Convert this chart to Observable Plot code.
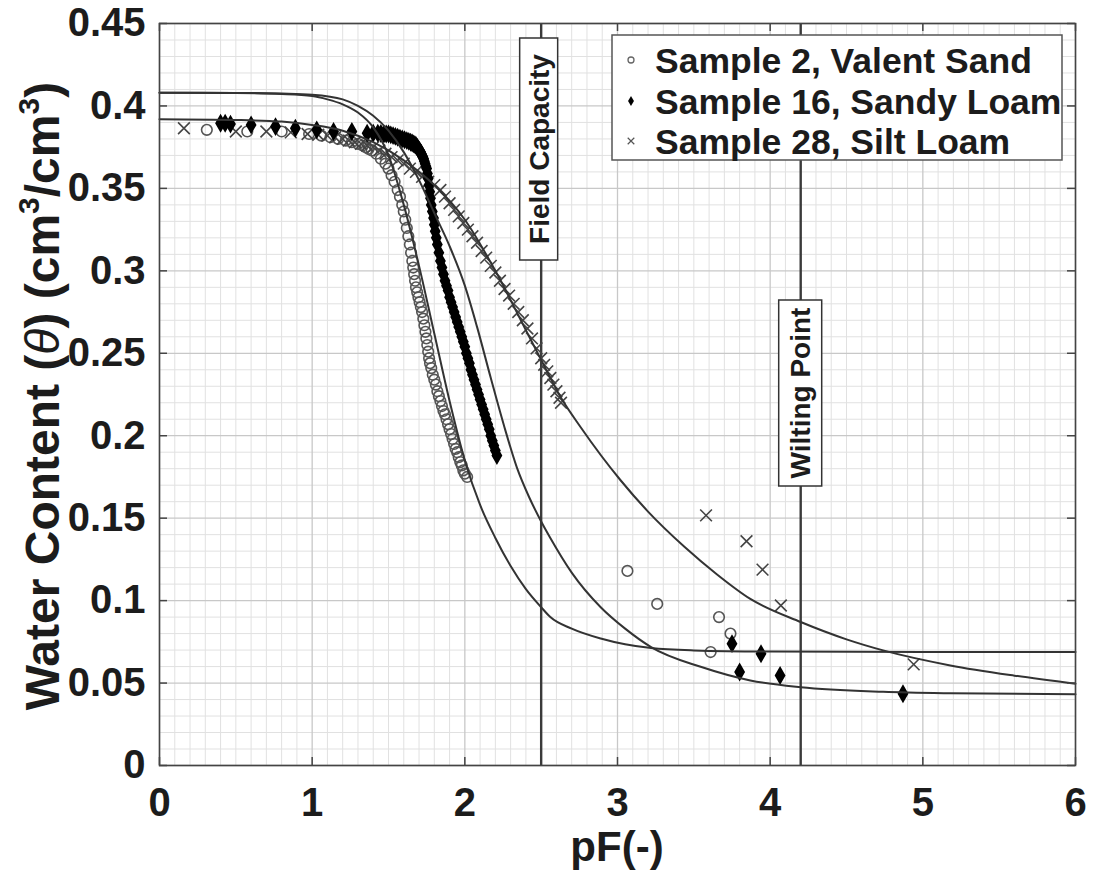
<!DOCTYPE html>
<html><head><meta charset="utf-8">
<script src="https://cdn.jsdelivr.net/npm/d3@7"></script>
<script src="https://cdn.jsdelivr.net/npm/@observablehq/plot@0.6"></script>
<style>body{margin:0;background:#fff;}#chart svg{display:block;}</style>
</head><body><div id="chart"></div>
<script>
// ---------- data (pF, theta) ----------
const sample2Sand = [[0.31,0.3855],[0.575,0.3845],[0.80,0.3845],[0.98,0.383],[1.06,0.382],[1.12,0.381],[1.17,0.380],[1.22,0.379],[1.26,0.378],[1.30,0.377],[1.33,0.376],[1.35,0.375],[1.37,0.374],[1.39,0.373],[1.42,0.371],[1.45,0.368],[1.48,0.365],[1.50,0.362],[1.52,0.358],[1.54,0.354],[1.56,0.349],[1.575,0.345],[1.59,0.340],[1.60,0.336],[1.61,0.331],[1.62,0.326],[1.63,0.321],[1.64,0.316],[1.648,0.311],[1.656,0.306],[1.662,0.302],[1.668,0.298],[1.674,0.294],[1.68,0.290],[1.688,0.287],[1.696,0.284],[1.704,0.281],[1.712,0.278],[1.72,0.275],[1.728,0.271],[1.735,0.267],[1.742,0.263],[1.748,0.259],[1.754,0.255],[1.76,0.251],[1.766,0.247],[1.772,0.244],[1.78,0.241],[1.79,0.237],[1.80,0.234],[1.81,0.231],[1.82,0.227],[1.83,0.224],[1.84,0.221],[1.85,0.218],[1.86,0.215],[1.87,0.213],[1.88,0.210],[1.89,0.207],[1.90,0.204],[1.91,0.201],[1.92,0.198],[1.93,0.195],[1.94,0.192],[1.95,0.190],[1.96,0.187],[1.97,0.184],[1.98,0.182],[1.99,0.179],[2.00,0.177],[2.015,0.175],[3.065,0.118],[3.26,0.098],[3.665,0.090],[3.74,0.080],[3.61,0.0688]];
const sample16SandyLoam = [[0.40,0.3895],[0.43,0.3895],[0.465,0.389],[0.60,0.3885],[0.76,0.3875],[0.89,0.3865],[1.03,0.3855],[1.14,0.3845],[1.26,0.3845],[1.36,0.3835],[1.40,0.3835],[1.43,0.3835],[1.45,0.3833],[1.47,0.383],[1.485,0.383],[1.50,0.383],[1.515,0.3825],[1.53,0.382],[1.545,0.3815],[1.56,0.381],[1.575,0.3805],[1.59,0.380],[1.605,0.3795],[1.62,0.379],[1.633,0.3785],[1.645,0.378],[1.655,0.3775],[1.665,0.377],[1.673,0.3765],[1.68,0.376],[1.688,0.375],[1.695,0.374],[1.703,0.373],[1.71,0.372],[1.715,0.371],[1.72,0.370],[1.725,0.369],[1.73,0.368],[1.735,0.3665],[1.74,0.365],[1.745,0.3635],[1.75,0.362],[1.755,0.359],[1.76,0.356],[1.765,0.352],[1.77,0.348],[1.775,0.344],[1.78,0.340],[1.787,0.336],[1.795,0.332],[1.80,0.328],[1.806,0.324],[1.813,0.320],[1.82,0.316],[1.83,0.311],[1.84,0.306],[1.85,0.302],[1.86,0.298],[1.87,0.294],[1.88,0.291],[1.89,0.288],[1.90,0.284],[1.91,0.281],[1.92,0.278],[1.93,0.275],[1.94,0.272],[1.95,0.269],[1.96,0.266],[1.97,0.263],[1.98,0.260],[1.99,0.257],[2.00,0.254],[2.01,0.250],[2.02,0.247],[2.03,0.244],[2.04,0.240],[2.05,0.237],[2.06,0.234],[2.07,0.231],[2.08,0.228],[2.09,0.225],[2.10,0.222],[2.11,0.219],[2.12,0.216],[2.13,0.213],[2.14,0.210],[2.15,0.207],[2.16,0.204],[2.17,0.200],[2.18,0.197],[2.19,0.194],[2.20,0.191],[2.21,0.188],[3.75,0.0739],[3.94,0.0678],[3.80,0.0567],[4.065,0.0546],[4.87,0.0435]];
const sample28SiltLoam = [[0.16,0.3865],[0.50,0.3845],[0.70,0.3845],[0.86,0.384],[0.97,0.383],[1.04,0.3825],[1.10,0.382],[1.15,0.381],[1.20,0.380],[1.24,0.379],[1.28,0.378],[1.32,0.377],[1.36,0.376],[1.40,0.375],[1.44,0.373],[1.48,0.371],[1.52,0.369],[1.56,0.367],[1.60,0.365],[1.64,0.362],[1.68,0.360],[1.72,0.357],[1.76,0.354],[1.80,0.352],[1.84,0.349],[1.87,0.345],[1.90,0.341],[1.93,0.337],[1.96,0.333],[1.99,0.329],[2.02,0.325],[2.05,0.321],[2.08,0.317],[2.11,0.312],[2.14,0.308],[2.17,0.303],[2.20,0.299],[2.23,0.294],[2.26,0.289],[2.29,0.285],[2.32,0.280],[2.35,0.275],[2.38,0.270],[2.41,0.265],[2.44,0.259],[2.47,0.253],[2.50,0.247],[2.52,0.243],[2.54,0.239],[2.56,0.235],[2.58,0.231],[2.60,0.227],[2.62,0.223],[2.63,0.220],[3.58,0.1517],[3.845,0.136],[3.95,0.1188],[4.07,0.097],[4.94,0.0613]];

// fitted retention curves
const fitSand = [[0,0.408],[0.5,0.4078],[0.8,0.4072],[1.0,0.406],[1.1,0.404],[1.2,0.401],[1.3,0.396],[1.4,0.387],[1.5,0.370],[1.6,0.340],[1.7,0.303],[1.8,0.262],[1.9,0.221],[2.0,0.185],[2.1,0.158],[2.2,0.138],[2.3,0.121],[2.4,0.107],[2.5,0.096],[2.56,0.090],[2.7,0.083],[2.89,0.077],[3.05,0.0735],[3.22,0.0712],[3.5,0.0698],[4.0,0.0691],[5.0,0.0689],[6.0,0.0688]];
const fitSandyLoam = [[0,0.408],[0.5,0.4079],[0.8,0.4075],[1.0,0.4068],[1.2,0.404],[1.3,0.400],[1.4,0.394],[1.5,0.385],[1.6,0.372],[1.7,0.355],[1.8,0.335],[1.9,0.315],[2.0,0.291],[2.08,0.266],[2.17,0.235],[2.26,0.205],[2.34,0.181],[2.42,0.163],[2.5,0.148],[2.56,0.138],[2.7,0.117],[2.89,0.096],[3.05,0.083],[3.22,0.0718],[3.55,0.0597],[3.87,0.0516],[4.2,0.0475],[4.74,0.0447],[5.18,0.0438],[6.0,0.0432]];
const fitSiltLoam = [[0,0.392],[0.5,0.3915],[0.8,0.3905],[1.0,0.3885],[1.2,0.385],[1.4,0.378],[1.6,0.367],[1.8,0.352],[2.0,0.331],[2.2,0.300],[2.4,0.264],[2.5,0.246],[2.63,0.223],[2.76,0.205],[3.02,0.173],[3.2,0.154],[3.44,0.1325],[3.65,0.116],[3.87,0.101],[4.2,0.087],[4.5,0.0765],[4.74,0.0698],[5.18,0.0607],[5.6,0.0545],[6.0,0.0496]];

const referenceLines = [2.5, 4.2];           // field capacity, wilting point (pF)
const referenceNames = ["Field Capacity", "Wilting Point"];
const legendNames = ["Sample 2, Valent Sand", "Sample 16, Sandy Loam", "Sample 28, Silt Loam"];
const xTicks = [0,1,2,3,4,5,6];
const yTicks = [0,0.05,0.1,0.15,0.2,0.25,0.3,0.35,0.4,0.45];
const yTickLabels = ["0","0.05","0.1","0.15","0.2","0.25","0.3","0.35","0.4","0.45"];

// ---------- layout ----------
const W = 1094, H = 873;
const ML = 159, MR = 19, MT = 23, MB = 108;
const FONT = "'Liberation Sans', Arial, Helvetica, sans-serif";
const TXT = "#1c1c1c";
const minorX = d3.range(1, 60).map(i => i / 10).filter(v => Math.abs(v - Math.round(v)) > 1e-6);
const minorY = d3.range(1, 45).map(i => i / 100).filter((v, i) => (i + 1) % 5 !== 0);
const px = d => d[0], py = d => d[1];
const tickLen = 8;

const plot = Plot.plot({
  width: W, height: H,
  marginLeft: ML, marginRight: MR, marginTop: MT, marginBottom: MB,
  x: {domain: [0, 6], axis: null},
  y: {domain: [0, 0.45], axis: null},
  style: {fontFamily: FONT, background: "#fff", color: TXT},
  marks: [
    Plot.ruleX(minorX, {stroke: "#e1e1e1", strokeWidth: 1}),
    Plot.ruleY(minorY, {stroke: "#e1e1e1", strokeWidth: 1}),
    Plot.ruleX(xTicks, {stroke: "#c8c8c8", strokeWidth: 1.3}),
    Plot.ruleY(yTicks, {stroke: "#c8c8c8", strokeWidth: 1.3}),
    Plot.ruleX(referenceLines, {stroke: "#3a3a3a", strokeWidth: 2.4}),
    Plot.dot(sample2Sand, {x: px, y: py, r: 5.3, stroke: "#555", strokeWidth: 1.6, fill: "none"}),
    Plot.dot(sample28SiltLoam, {x: px, y: py, symbol: "times", r: 5.4, stroke: "#444", strokeWidth: 1.6}),
    Plot.dot(sample16SandyLoam, {x: px, y: py, symbol: "diamond", r: 4.5, fill: "#000", stroke: "#000", strokeWidth: 2}),
    Plot.line(fitSand, {x: px, y: py, stroke: "#333", strokeWidth: 2, curve: "monotone-x"}),
    Plot.line(fitSandyLoam, {x: px, y: py, stroke: "#333", strokeWidth: 2, curve: "monotone-x"}),
    Plot.line(fitSiltLoam, {x: px, y: py, stroke: "#333", strokeWidth: 2, curve: "monotone-x"}),
    Plot.tickX(xTicks, {x: d => d, stroke: "#444", strokeWidth: 1.5, insetTop: H - MT - MB - tickLen}),
    Plot.tickX(xTicks, {x: d => d, stroke: "#444", strokeWidth: 1.5, insetBottom: H - MT - MB - tickLen}),
    Plot.tickY(yTicks, {y: d => d, stroke: "#444", strokeWidth: 1.5, insetRight: W - ML - MR - tickLen}),
    Plot.tickY(yTicks, {y: d => d, stroke: "#444", strokeWidth: 1.5, insetLeft: W - ML - MR - tickLen}),
    Plot.frame({stroke: "#444", strokeWidth: 1.6}),
    Plot.text(xTicks, {x: d => d, text: d => String(d), frameAnchor: "bottom", dy: 38, lineAnchor: "middle", fontSize: 40, fontWeight: "bold", fill: TXT}),
    Plot.text(yTicks, {y: d => d, text: (d, i) => yTickLabels[i], frameAnchor: "left", dx: -14, textAnchor: "end", lineAnchor: "middle", fontSize: 40, fontWeight: "bold", fill: TXT})
  ]
});

document.getElementById("chart").appendChild(plot);
const svg = d3.select(plot);
const sx = plot.scale("x");

// reference line labels (boxed, rotated)
const boxes = [
  {x: sx.apply(referenceLines[0]) - 2, top: 38, bottom: 260, w: 38, name: referenceNames[0]},
  {x: sx.apply(referenceLines[1]), top: 300, bottom: 486, w: 43, name: referenceNames[1]}
];
for (const b of boxes) {
  svg.append("rect").attr("x", b.x - b.w / 2).attr("y", b.top).attr("width", b.w).attr("height", b.bottom - b.top)
    .attr("fill", "#fff").attr("stroke", "#333").attr("stroke-width", 1.5);
  svg.append("text").attr("transform", `translate(${b.x},${(b.top + b.bottom) / 2}) rotate(-90)`)
    .attr("text-anchor", "middle").attr("dy", "0.36em")
    .attr("font-family", FONT).attr("font-weight", "bold").attr("font-size", 28).attr("fill", TXT)
    .text(b.name);
}

// legend
const lg = svg.append("g");
lg.append("rect").attr("x", 612).attr("y", 35).attr("width", 450).attr("height", 125)
  .attr("fill", "#fff").attr("stroke", "#555").attr("stroke-width", 1.5);
const rows = [60, 101, 141];
legendNames.forEach((name, i) => {
  lg.append("text").attr("x", 655).attr("y", rows[i]).attr("dy", "0.36em").attr("text-anchor", "start")
    .attr("font-family", FONT).attr("font-weight", "bold").attr("font-size", 35.5).attr("fill", TXT).text(name);
});
lg.append("circle").attr("cx", 631).attr("cy", rows[0]).attr("r", 3).attr("fill", "none").attr("stroke", "#666").attr("stroke-width", 1.3);
lg.append("path").attr("d", d3.symbol(d3.symbolDiamond, 30)()).attr("transform", `translate(631,${rows[1]})`).attr("fill", "#000");
lg.append("path").attr("d", d3.symbol(d3.symbolTimes, 30)()).attr("transform", `translate(631,${rows[2]})`).attr("fill", "none").attr("stroke", "#555").attr("stroke-width", 1.2);

// axis labels
const ylab = svg.append("text").attr("transform", `translate(42,${(MT + H - MB) / 2 + 2}) rotate(-90)`)
  .attr("text-anchor", "middle").attr("dy", "0.36em")
  .attr("font-family", FONT).attr("font-weight", "bold").attr("font-size", 48).attr("fill", TXT);
ylab.append("tspan").text("Water Content (");
ylab.append("tspan").attr("font-style", "italic").attr("font-weight", "normal").text("θ");
ylab.append("tspan").text(") (cm");
ylab.append("tspan").attr("font-size", 30).attr("dy", -20).text("3");
ylab.append("tspan").attr("dy", 20).text("/cm");
ylab.append("tspan").attr("font-size", 30).attr("dy", -20).text("3");
ylab.append("tspan").attr("dy", 20).text(")");

svg.append("text").attr("x", (ML + W - MR) / 2).attr("y", 846).attr("dy", "0.36em").attr("text-anchor", "middle")
  .attr("font-family", FONT).attr("font-weight", "bold").attr("font-size", 42).attr("fill", TXT).text("pF(-)");
</script>
</body></html>
